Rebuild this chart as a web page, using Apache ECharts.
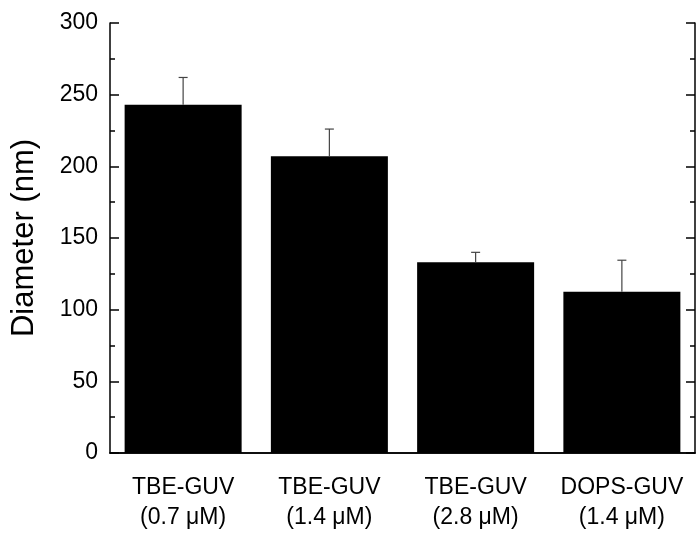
<!DOCTYPE html>
<html>
<head>
<meta charset="utf-8">
<script src="https://cdn.jsdelivr.net/npm/echarts@6/dist/echarts.min.js"></script>
<style>
  html, body { margin: 0; padding: 0; background: #fff; }
  #charts { width: 696px; height: 537px; }
</style>
</head>
<body>
<div id="charts"></div>
<script>
// 数据
var categories = ['TBE-GUV\n(0.7 μM)', 'TBE-GUV\n(1.4 μM)', 'TBE-GUV\n(2.8 μM)', 'DOPS-GUV\n(1.4 μM)'];
var diameters = [243, 207, 133, 112.5];
var errors = [19, 19, 7, 22];
var yTicks = [0, 50, 100, 150, 200, 250, 300];

var font = 'Liberation Sans, Arial, sans-serif';
var errData = diameters.map(function (v, i) { return [i, v, v + errors[i]]; });

var myChart = echarts.init(document.getElementById('charts'));
myChart.setOption({
	animation: false,
	grid: { left: 110, right: 1, top: 23, bottom: 84 },
	xAxis: [{
		type: 'category',
		data: categories,
		position: 'bottom',
		axisLine: { lineStyle: { color: '#000', width: 1.5 } },
		axisTick: { inside: true, length: 5, lineStyle: { color: '#000', width: 1.5 } },
		axisLabel: { color: '#000', fontSize: 23, fontFamily: font, lineHeight: 30, margin: 20, interval: 0 }
	}, {
		type: 'category',
		data: categories,
		position: 'top',
		axisLine: { lineStyle: { color: '#000', width: 1.5 } },
		axisTick: { inside: true, alignWithLabel: true, length: 9, lineStyle: { color: '#000', width: 1.5 } },
		axisLabel: { show: false }
	}, {
		type: 'category',
		data: categories,
		position: 'top',
		axisLine: { show: false },
		axisTick: { inside: true, length: 5, lineStyle: { color: '#000', width: 1.5 } },
		axisLabel: { show: false }
	}],
	yAxis: [{
		type: 'value',
		min: yTicks[0],
		max: yTicks[yTicks.length - 1],
		interval: 50,
		position: 'left',
		name: 'Diameter (nm)',
		nameLocation: 'middle',
		nameGap: 70,
		nameTextStyle: { color: '#000', fontSize: 31, fontFamily: font },
		axisLine: { show: true, lineStyle: { color: '#000', width: 1.5 } },
		axisTick: { show: true, inside: true, length: 9, lineStyle: { color: '#000', width: 1.5 } },
		minorTick: { show: true, splitNumber: 2, length: 5, lineStyle: { color: '#000', width: 1.5 } },
		axisLabel: { color: '#000', fontSize: 23, fontFamily: font, margin: 12 },
		splitLine: { show: false }
	}, {
		type: 'value',
		min: yTicks[0],
		max: yTicks[yTicks.length - 1],
		interval: 50,
		position: 'right',
		axisLine: { show: true, lineStyle: { color: '#000', width: 1.5 } },
		axisTick: { show: true, inside: true, length: 9, lineStyle: { color: '#000', width: 1.5 } },
		minorTick: { show: true, splitNumber: 2, length: 5, lineStyle: { color: '#000', width: 1.5 } },
		axisLabel: { show: false },
		splitLine: { show: false }
	}],
	series: [{
		type: 'bar',
		data: diameters,
		barWidth: '80%',
		itemStyle: { color: '#000' },
		z: 2
	}, {
		type: 'custom',
		data: errData,
		z: 3,
		renderItem: function (params, api) {
			var base = api.coord([api.value(0), api.value(1)]);
			var top = api.coord([api.value(0), api.value(2)]);
			var half = 4.5;
			var style = { stroke: '#444', lineWidth: 1.2 };
			return {
				type: 'group',
				children: [
					{ type: 'line', shape: { x1: base[0], y1: base[1], x2: top[0], y2: top[1] }, style: style },
					{ type: 'line', shape: { x1: top[0] - half, y1: top[1], x2: top[0] + half, y2: top[1] }, style: style }
				]
			};
		}
	}]
});
</script>
</body>
</html>
